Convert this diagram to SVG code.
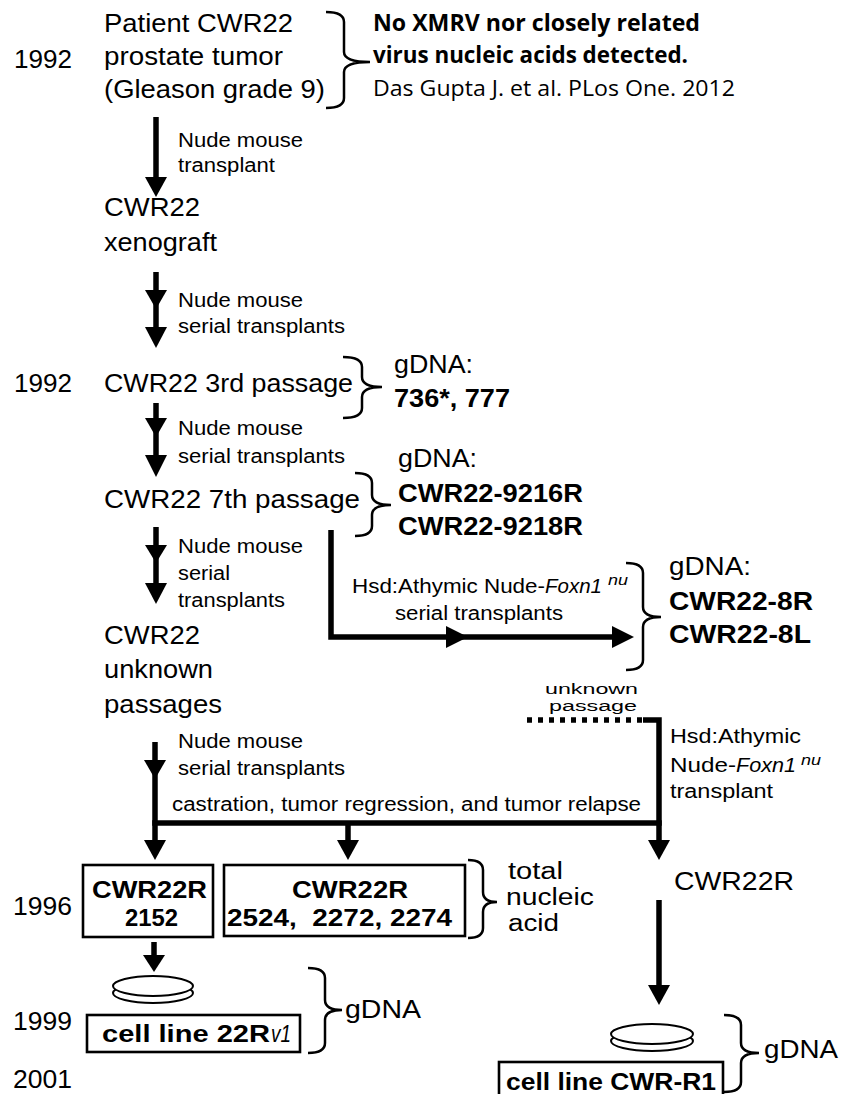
<svg xmlns="http://www.w3.org/2000/svg" width="842" height="1094" viewBox="0 0 842 1094">
<style>
text{font-family:"Liberation Sans",Arial,sans-serif;fill:#000}
.L{font-size:25px}
.M{font-size:23px}
.S{font-size:20px}
.B{font-weight:bold;font-size:25px}
.BB{font-weight:bold;font-size:23px}
.I{font-style:italic}
.ob{font-family:"Open Sans","Liberation Sans",sans-serif;font-weight:bold;font-size:24px}
.or{font-family:"Open Sans","Liberation Sans",sans-serif;font-size:21px}
.ln{fill:none;stroke:#000;stroke-width:5.5}
.br{fill:none;stroke:#000;stroke-width:2.5}
.bx{fill:#fff;stroke:#000;stroke-width:2.6}
.dish{fill:#fff;stroke:#000;stroke-width:2}
.hd{fill:#000}
</style>
<rect width="842" height="1094" fill="#fff"/>

<g id="years">
<text class="L" x="14" y="68" textLength="58" lengthAdjust="spacingAndGlyphs">1992</text>
<text class="L" x="14" y="392" textLength="58" lengthAdjust="spacingAndGlyphs">1992</text>
<text class="L" x="13" y="915" textLength="59" lengthAdjust="spacingAndGlyphs">1996</text>
<text class="L" x="13" y="1030" textLength="59" lengthAdjust="spacingAndGlyphs">1999</text>
<text class="L" x="13" y="1088" textLength="59" lengthAdjust="spacingAndGlyphs">2001</text>
</g>

<g id="patient">
<text class="L" x="104" y="32" textLength="189" lengthAdjust="spacingAndGlyphs">Patient CWR22</text>
<text class="L" x="104" y="65" textLength="179" lengthAdjust="spacingAndGlyphs">prostate tumor</text>
<text class="L" x="104" y="98" textLength="221" lengthAdjust="spacingAndGlyphs">(Gleason grade 9)</text>
</g>

<g id="note-xmrv">
<path class="br" d="M326,12 Q344,12 344,22 L344,52 Q344,62 370,62 Q344,62 344,72 L344,98 Q344,108 326,108"/>
<text class="ob" x="373" y="31" textLength="327" lengthAdjust="spacingAndGlyphs">No XMRV nor closely related</text>
<text class="ob" x="373" y="63" textLength="315" lengthAdjust="spacingAndGlyphs">virus nucleic acids detected.</text>
<text class="or" x="373" y="96" textLength="362" lengthAdjust="spacingAndGlyphs">Das Gupta J. et al. PLos One. 2012</text>
</g>

<g id="xenograft">
<text class="L" x="104" y="216" textLength="96" lengthAdjust="spacingAndGlyphs">CWR22</text>
<text class="L" x="104" y="251" textLength="113" lengthAdjust="spacingAndGlyphs">xenograft</text>
</g>

<g id="passage3">
<text class="L" x="104" y="392" textLength="249" lengthAdjust="spacingAndGlyphs">CWR22 3rd passage</text>
<path class="br" d="M343,357 Q362,357 362,367 L362,377 Q362,387 382,387 Q362,387 362,397 L362,408 Q362,418 343,418"/>
<text class="L" x="394" y="373" textLength="79" lengthAdjust="spacingAndGlyphs">gDNA:</text>
<text class="B" x="394" y="407" textLength="116" lengthAdjust="spacingAndGlyphs">736*, 777</text>
</g>

<g id="passage7">
<text class="L" x="104" y="508" textLength="256" lengthAdjust="spacingAndGlyphs">CWR22 7th passage</text>
<path class="br" d="M355,473 Q372,473 372,483 L372,495 Q372,505 391,505 Q372,505 372,515 L372,526 Q372,536 355,536"/>
<text class="L" x="398" y="467" textLength="79" lengthAdjust="spacingAndGlyphs">gDNA:</text>
<text class="B" x="398" y="502" textLength="185" lengthAdjust="spacingAndGlyphs">CWR22-9216R</text>
<text class="B" x="398" y="535" textLength="185" lengthAdjust="spacingAndGlyphs">CWR22-9218R</text>
</g>

<g id="gdna-8">
<path class="br" d="M626,563 Q643,563 643,573 L643,607 Q643,617 661,617 Q643,617 643,627 L643,660 Q643,670 626,670"/>
<text class="L" x="669" y="575" textLength="82" lengthAdjust="spacingAndGlyphs">gDNA:</text>
<text class="B" x="669" y="610" textLength="144" lengthAdjust="spacingAndGlyphs">CWR22-8R</text>
<text class="B" x="669" y="643" textLength="142" lengthAdjust="spacingAndGlyphs">CWR22-8L</text>
</g>

<g id="unknown">
<text class="L" x="104" y="644" textLength="96" lengthAdjust="spacingAndGlyphs">CWR22</text>
<text class="L" x="104" y="678" textLength="109" lengthAdjust="spacingAndGlyphs">unknown</text>
<text class="L" x="104" y="713" textLength="118" lengthAdjust="spacingAndGlyphs">passages</text>
</g>

<g id="box-2152">
<rect class="bx" x="83" y="865" width="130" height="72"/>
<text class="BB" x="92" y="898" textLength="115" lengthAdjust="spacingAndGlyphs">CWR22R</text>
<text class="BB" x="125" y="926" textLength="53" lengthAdjust="spacingAndGlyphs">2152</text>
</g>

<g id="box-2524">
<rect class="bx" x="224" y="865" width="241" height="71"/>
<text class="BB" x="292" y="898" textLength="116" lengthAdjust="spacingAndGlyphs">CWR22R</text>
<text class="BB" x="227" y="926" textLength="225" lengthAdjust="spacingAndGlyphs" xml:space="preserve">2524,  2272, 2274</text>
<path class="br" d="M468,860 Q483,860 483,870 L483,892 Q483,902 497,902 Q483,902 483,912 L483,928 Q483,938 468,938"/>
<text class="M" x="508" y="879" textLength="55" lengthAdjust="spacingAndGlyphs">total</text>
<text class="M" x="506" y="905" textLength="88" lengthAdjust="spacingAndGlyphs">nucleic</text>
<text class="M" x="508" y="931" textLength="51" lengthAdjust="spacingAndGlyphs">acid</text>
</g>

<g id="cwr22r">
<text class="L" x="674" y="890" textLength="120" lengthAdjust="spacingAndGlyphs">CWR22R</text>
</g>

<g id="cell-22rv1">
<ellipse class="dish" cx="153" cy="993" rx="40" ry="10"/>
<ellipse class="dish" cx="153" cy="986" rx="40" ry="10"/>
<rect class="bx" x="87" y="1015" width="213" height="37"/>
<text class="BB" x="102" y="1042" textLength="168" lengthAdjust="spacingAndGlyphs">cell line 22R</text>
<text class="I" x="271" y="1042" font-size="23" textLength="20" lengthAdjust="spacingAndGlyphs">v1</text>
<path class="br" d="M308,968 Q325,968 325,978 L325,1000 Q325,1010 342,1010 Q325,1010 325,1020 L325,1043 Q325,1053 308,1053"/>
<text class="L" x="345" y="1018" textLength="76" lengthAdjust="spacingAndGlyphs">gDNA</text>
</g>

<g id="cell-cwrr1">
<ellipse class="dish" cx="652" cy="1041" rx="41" ry="10"/>
<ellipse class="dish" cx="652" cy="1034" rx="41" ry="10"/>
<rect class="bx" x="499" y="1062" width="224" height="44"/>
<text class="BB" x="506" y="1090" textLength="210" lengthAdjust="spacingAndGlyphs">cell line CWR-R1</text>
<path class="br" d="M724,1015 Q741,1015 741,1025 L741,1043 Q741,1053 759,1053 Q741,1053 741,1063 L741,1082 Q741,1092 724,1092"/>
<text class="L" x="764" y="1058" textLength="74" lengthAdjust="spacingAndGlyphs">gDNA</text>
</g>

<g id="connectors">
<line class="ln" x1="156" y1="117" x2="156" y2="180"/>
<polygon class="hd" points="145,177 167,177 156,197"/>
<text class="S" x="178" y="147" textLength="125" lengthAdjust="spacingAndGlyphs">Nude mouse</text>
<text class="S" x="178" y="172" textLength="97" lengthAdjust="spacingAndGlyphs">transplant</text>

<line class="ln" x1="156" y1="272" x2="156" y2="330"/>
<polygon class="hd" points="145,290 167,290 156,309"/>
<polygon class="hd" points="145,327 167,327 156,348"/>
<text class="S" x="178" y="307" textLength="125" lengthAdjust="spacingAndGlyphs">Nude mouse</text>
<text class="S" x="178" y="333" textLength="167" lengthAdjust="spacingAndGlyphs">serial transplants</text>

<line class="ln" x1="156" y1="403" x2="156" y2="458"/>
<polygon class="hd" points="145,418 167,418 156,437"/>
<polygon class="hd" points="145,455 167,455 156,477"/>
<text class="S" x="178" y="435" textLength="125" lengthAdjust="spacingAndGlyphs">Nude mouse</text>
<text class="S" x="178" y="463" textLength="167" lengthAdjust="spacingAndGlyphs">serial transplants</text>

<line class="ln" x1="156" y1="527" x2="156" y2="586"/>
<polygon class="hd" points="145,545 167,545 156,563"/>
<polygon class="hd" points="145,583 167,583 156,604"/>
<text class="S" x="178" y="553" textLength="125" lengthAdjust="spacingAndGlyphs">Nude mouse</text>
<text class="S" x="178" y="580" textLength="52" lengthAdjust="spacingAndGlyphs">serial</text>
<text class="S" x="178" y="607" textLength="107" lengthAdjust="spacingAndGlyphs">transplants</text>

<path class="ln" d="M331,530 L331,637 L614,637" stroke-linejoin="miter"/>
<polygon class="hd" points="446,626 468,637 446,648"/>
<polygon class="hd" points="612,626 634,637 612,648"/>
<text class="S" x="352" y="593" textLength="193" lengthAdjust="spacingAndGlyphs">Hsd:Athymic Nude-</text>
<text class="S I" x="545" y="593" textLength="57" lengthAdjust="spacingAndGlyphs">Foxn1</text>
<text class="I" x="608" y="585" font-size="14" textLength="20" lengthAdjust="spacingAndGlyphs">nu</text>
<text class="S" x="395" y="620" textLength="168" lengthAdjust="spacingAndGlyphs">serial transplants</text>

<line class="ln" x1="527" y1="720" x2="645" y2="720" stroke-dasharray="5 6"/>
<path class="ln" d="M643,720 L659,720 L659,843" stroke-linejoin="miter"/>
<text x="638" y="694" font-size="15.5" text-anchor="end" textLength="93" lengthAdjust="spacingAndGlyphs">unknown</text>
<text x="637" y="711" font-size="15.5" text-anchor="end" textLength="88" lengthAdjust="spacingAndGlyphs">passage</text>
<text class="S" x="670" y="743" textLength="131" lengthAdjust="spacingAndGlyphs">Hsd:Athymic</text>
<text class="S" x="670" y="772" textLength="66" lengthAdjust="spacingAndGlyphs">Nude-</text>
<text class="S I" x="736" y="772" textLength="60" lengthAdjust="spacingAndGlyphs">Foxn1</text>
<text class="I" x="801" y="765" font-size="14" textLength="20" lengthAdjust="spacingAndGlyphs">nu</text>
<text class="S" x="670" y="798" textLength="103" lengthAdjust="spacingAndGlyphs">transplant</text>

<line class="ln" x1="155" y1="742" x2="155" y2="843"/>
<polygon class="hd" points="144,760 166,760 155,779"/>
<text class="S" x="178" y="748" textLength="125" lengthAdjust="spacingAndGlyphs">Nude mouse</text>
<text class="S" x="178" y="775" textLength="167" lengthAdjust="spacingAndGlyphs">serial transplants</text>
<line class="ln" x1="152.25" y1="823" x2="661.75" y2="823"/>
<text class="S" x="172" y="811" textLength="469" lengthAdjust="spacingAndGlyphs">castration, tumor regression, and tumor relapse</text>
<polygon class="hd" points="144,840 166,840 155,860"/>
<line class="ln" x1="348" y1="823" x2="348" y2="843"/>
<polygon class="hd" points="337,840 359,840 348,860"/>
<polygon class="hd" points="648,840 670,840 659,860"/>

<line class="ln" x1="154" y1="942" x2="154" y2="958"/>
<polygon class="hd" points="143,955 165,955 154,972"/>

<line class="ln" x1="659" y1="900" x2="659" y2="988"/>
<polygon class="hd" points="648,985 670,985 659,1005"/>
</g>
</svg>
